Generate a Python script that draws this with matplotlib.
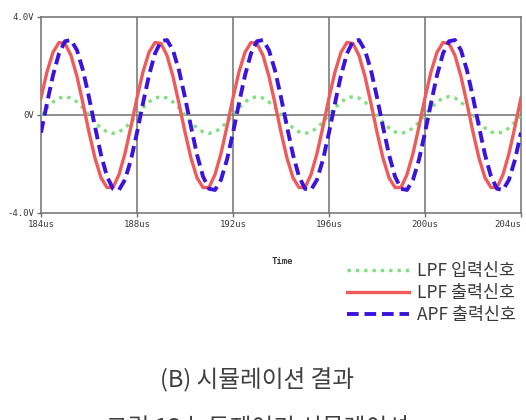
import matplotlib
matplotlib.use("Agg")
import matplotlib.pyplot as plt

# time axis, us (0.25 us steps)
time_us = [184 + 0.25 * k for k in range(81)]

# LPF input (green dotted), V
lpf_in = [
    0.00, 0.29, 0.53, 0.69, 0.75, 0.69, 0.53, 0.29, 0.00, -0.29, -0.53, -0.69, -0.75, -0.69, -0.53, -0.29,
    0.00, 0.29, 0.53, 0.69, 0.75, 0.69, 0.53, 0.29, 0.00, -0.29, -0.53, -0.69, -0.75, -0.69, -0.53, -0.29,
    0.00, 0.29, 0.53, 0.69, 0.75, 0.69, 0.53, 0.29, 0.00, -0.29, -0.53, -0.69, -0.75, -0.69, -0.53, -0.29,
    0.00, 0.29, 0.53, 0.69, 0.75, 0.69, 0.53, 0.29, 0.00, -0.29, -0.53, -0.69, -0.75, -0.69, -0.53, -0.29,
    0.00, 0.29, 0.53, 0.69, 0.75, 0.69, 0.53, 0.29, 0.00, -0.29, -0.53, -0.69, -0.75, -0.69, -0.53, -0.29,
    0.00,
]

# LPF output (red solid), V
lpf_out = [
    0.70, 1.76, 2.56, 2.96, 2.92, 2.43, 1.57, 0.47, -0.70, -1.76, -2.56, -2.96, -2.96, -2.43, -1.57, -0.47,
    0.70, 1.76, 2.56, 2.96, 2.92, 2.43, 1.57, 0.47, -0.70, -1.76, -2.56, -2.96, -2.96, -2.43, -1.57, -0.47,
    0.70, 1.76, 2.56, 2.96, 2.92, 2.43, 1.57, 0.47, -0.70, -1.76, -2.56, -2.96, -2.96, -2.43, -1.57, -0.47,
    0.70, 1.76, 2.56, 2.96, 2.92, 2.43, 1.57, 0.47, -0.70, -1.76, -2.56, -2.96, -2.96, -2.43, -1.57, -0.47,
    0.70, 1.76, 2.56, 2.96, 2.92, 2.43, 1.57, 0.47, -0.70, -1.76, -2.56, -2.96, -2.96, -2.43, -1.57, -0.47,
    0.70,
]

# APF output (blue dashed), V
apf_out = [
    -0.72, 0.48, 1.62, 2.51, 3.01, 3.06, 2.64, 1.82, 0.72, -0.48, -1.62, -2.51, -3.01, -3.06, -2.64, -1.82,
    -0.72, 0.48, 1.62, 2.51, 3.01, 3.06, 2.64, 1.82, 0.72, -0.48, -1.62, -2.51, -3.01, -3.06, -2.64, -1.82,
    -0.72, 0.48, 1.62, 2.51, 3.01, 3.06, 2.64, 1.82, 0.72, -0.48, -1.62, -2.51, -3.01, -3.06, -2.64, -1.82,
    -0.72, 0.48, 1.62, 2.51, 3.01, 3.06, 2.64, 1.82, 0.72, -0.48, -1.62, -2.51, -3.01, -3.06, -2.64, -1.82,
    -0.72, 0.48, 1.62, 2.51, 3.01, 3.06, 2.64, 1.82, 0.72, -0.48, -1.62, -2.51, -3.01, -3.06, -2.64, -1.82,
    -0.72,
]

x_ticks = [184, 188, 192, 196, 200, 204]
x_tick_labels = ["184us", "188us", "192us", "196us", "200us", "204us"]
y_ticks = [-4.0, 0.0, 4.0]
y_tick_labels = ["-4.0V", "0V", "4.0V"]
legend_labels = ["LPF 입력신호", "LPF 출력신호", "APF 출력신호"]

KR = ["Noto Sans CJK KR", "DejaVu Sans"]
MONO = "DejaVu Sans Mono"
GRID = "#707070"
TXT = "#3a3a3a"

fig = plt.figure(figsize=(5.26, 4.20), dpi=100)
ax = fig.add_axes([41 / 526, 1 - 213 / 420, 480 / 526, 196 / 420])

l_in, = ax.plot(time_us, lpf_in, color="#7ee07e", lw=2.4, ls=(0, (1, 1.5)), zorder=3)
l_out, = ax.plot(time_us, lpf_out, color="#f05a5a", lw=2.4, zorder=4)
l_apf, = ax.plot(time_us, apf_out, color="#3a14dc", lw=2.8, ls=(0, (3.0, 1.5)), zorder=5)

ax.set_xlim(184, 204)
ax.set_ylim(-4, 4)
ax.set_xticks(x_ticks)
ax.set_xticklabels(x_tick_labels, family=MONO, fontsize=6.5, color=TXT)
ax.get_xticklabels()[-1].set_horizontalalignment("right")
ax.set_yticks(y_ticks)
ax.set_yticklabels(y_tick_labels, family=MONO, fontsize=6.5, color=TXT)
ax.tick_params(length=3, width=1.0, color=GRID, pad=2)

for t in x_ticks[1:-1]:
    ax.axvline(t, color=GRID, lw=1.1, zorder=1)
ax.axhline(0, color=GRID, lw=1.1, zorder=1)
for s in ax.spines.values():
    s.set_color(GRID)
    s.set_linewidth(1.1)

fig.text(282 / 526, 1 - 261 / 420, "Time", family=MONO, fontsize=6.5,
         color=TXT, ha="center", va="center", weight="bold")

fig.legend([l_in, l_out, l_apf], legend_labels, loc="upper left",
           bbox_to_anchor=(338 / 526, 1 - 253 / 420), frameon=False,
           prop={"family": KR, "size": 12.5}, handlelength=3.6,
           handletextpad=0.45, labelspacing=0.25, borderpad=0,
           labelcolor=TXT)

fig.text(257 / 526, 1 - 380 / 420, "(B) 시뮬레이션 결과", family=KR,
         fontsize=17, color="#404040", ha="center", va="center")
# second caption line is cut by the bottom edge in the source image
fig.text(257 / 526, 1 - 429 / 420, "그림 13 능동제어기 시뮬레이션", family=KR,
         fontsize=17, color="#404040", ha="center", va="center")

fig.savefig("out.png", dpi=100)
